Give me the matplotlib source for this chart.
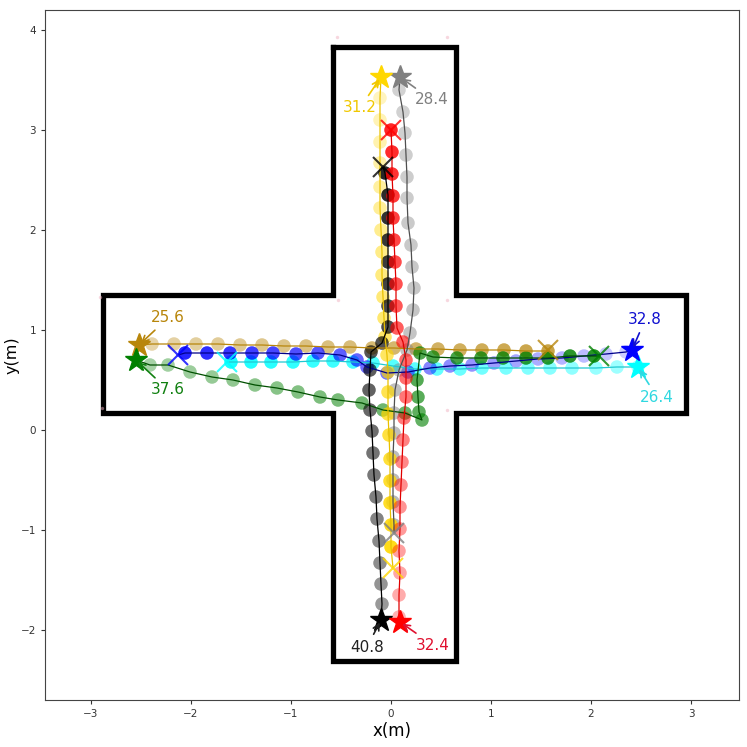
import matplotlib
matplotlib.use("Agg")
import matplotlib.pyplot as plt
import numpy as np
from matplotlib.colors import to_rgba

# ---------------- data ----------------
wall_x = [-0.58, 0.65, 0.65, 2.95, 2.95, 0.65, 0.65, -0.58, -0.58, -2.88, -2.88, -0.58, -0.58]
wall_y = [3.83, 3.83, 1.35, 1.35, 0.17, 0.17, -2.31, -2.31, 0.17, 0.17, 1.35, 1.35, 3.83]

corner_x = [-0.54, 0.56, -0.53, 0.56, 0.56, -2.91, -2.89]
corner_y = [3.93, 3.93, 1.30, 1.30, 0.20, 1.33, 0.22]

# agent: darkgoldenrod
gold_x = [1.57, 1.35, 1.13, 0.91, 0.69, 0.47, 0.25, 0.03, -0.19, -0.41, -0.63, -0.85,
          -1.07, -1.29, -1.51, -1.73, -1.95, -2.17, -2.39]
gold_y = [0.79, 0.79, 0.80, 0.80, 0.80, 0.81, 0.81, 0.82, 0.82, 0.83, 0.83, 0.84,
          0.84, 0.85, 0.85, 0.86, 0.86, 0.86, 0.86]
gold_start = (1.57, 0.80)
gold_goal = (-2.52, 0.85)
gold_time = "25.6"

# agent: green
green_x = [2.03, 1.79, 1.57, 1.35, 1.12, 0.90, 0.66, 0.42, 0.29, 0.26, 0.27, 0.28, 0.31,
           0.14, -0.08, -0.29, -0.53, -0.71, -0.93, -1.14, -1.36, -1.58, -1.79, -2.01, -2.23, -2.41]
green_y = [0.74, 0.74, 0.72, 0.72, 0.72, 0.72, 0.72, 0.73, 0.77, 0.50, 0.33, 0.18, 0.10,
           0.17, 0.20, 0.27, 0.30, 0.33, 0.38, 0.42, 0.45, 0.50, 0.53, 0.58, 0.65, 0.65]
green_start = (2.08, 0.74)
green_goal = (-2.55, 0.70)
green_time = "37.6"

# agent: blue
blue_x = [-2.06, -1.84, -1.61, -1.39, -1.18, -0.95, -0.73, -0.51, -0.34, -0.24, -0.04, 0.17,
          0.39, 0.59, 0.81, 1.03, 1.25, 1.47, 1.71, 1.93, 2.15, 2.35]
blue_y = [0.77, 0.77, 0.77, 0.77, 0.77, 0.76, 0.77, 0.75, 0.70, 0.63, 0.57, 0.58,
          0.62, 0.64, 0.65, 0.67, 0.69, 0.71, 0.72, 0.74, 0.76, 0.78]
blue_start = (-2.13, 0.75)
blue_goal = (2.41, 0.80)
blue_time = "32.8"

# agent: cyan
cyan_x = [-1.60, -1.40, -1.20, -0.98, -0.78, -0.58, -0.38, -0.18, 0.02, 0.24, 0.46, 0.69,
          0.91, 1.15, 1.37, 1.59, 1.81, 2.05, 2.26, 2.47]
cyan_y = [0.68, 0.68, 0.68, 0.68, 0.69, 0.69, 0.68, 0.67, 0.64, 0.61, 0.61, 0.61,
          0.62, 0.62, 0.62, 0.62, 0.62, 0.62, 0.63, 0.63]
cyan_start = (-1.64, 0.68)
cyan_goal = (2.47, 0.63)
cyan_time = "26.4"

# agent: red
red_x = [0.00, 0.01, 0.01, 0.02, 0.02, 0.03, 0.04, 0.05, 0.05, 0.06, 0.12, 0.15, 0.15,
         0.15, 0.13, 0.12, 0.11, 0.10, 0.09, 0.09, 0.08, 0.09, 0.08, 0.08]
red_y = [3.00, 2.78, 2.56, 2.34, 2.12, 1.90, 1.68, 1.46, 1.24, 1.02, 0.88, 0.70, 0.52,
         0.33, 0.12, -0.10, -0.32, -0.55, -0.77, -0.99, -1.21, -1.43, -1.65, -1.87]
red_start = (0.00, 3.00)
red_goal = (0.09, -1.92)
red_time = "32.4"

# agent: black
black_x = [-0.06, -0.03, -0.03, -0.03, -0.03, -0.03, -0.03, -0.03, -0.09, -0.20, -0.21,
           -0.22, -0.21, -0.19, -0.18, -0.17, -0.15, -0.14, -0.12, -0.11, -0.10, -0.09]
black_y = [2.57, 2.35, 2.12, 1.90, 1.68, 1.46, 1.24, 1.03, 0.87, 0.78, 0.60,
           0.40, 0.20, -0.01, -0.23, -0.45, -0.67, -0.89, -1.11, -1.33, -1.54, -1.74]
black_start = (-0.08, 2.63)
black_goal = (-0.10, -1.90)
black_time = "40.8"

# agent: gray
gray_x = [0.03, 0.02, 0.02, 0.02, 0.03, 0.03, 0.04, 0.08, 0.16, 0.19, 0.22, 0.23, 0.21,
          0.20, 0.17, 0.16, 0.16, 0.15, 0.14, 0.12, 0.08]
gray_y = [-0.95, -0.72, -0.50, -0.27, -0.03, 0.17, 0.40, 0.60, 0.80, 0.97, 1.20, 1.42, 1.63,
          1.85, 2.07, 2.32, 2.53, 2.75, 2.97, 3.18, 3.40]
gray_start = (0.03, -1.03)
gray_goal = (0.09, 3.53)
gray_time = "28.4"

# agent: yellow (gold)
yel_x = [0.00, 0.00, -0.01, -0.01, -0.01, -0.02, -0.03, -0.03, -0.03, -0.04, -0.06, -0.07,
         -0.08, -0.09, -0.09, -0.10, -0.11, -0.11, -0.11, -0.11, -0.11, -0.11]
yel_y = [-1.17, -0.95, -0.73, -0.51, -0.29, -0.05, 0.16, 0.38, 0.58, 0.75, 0.93, 1.12,
         1.33, 1.55, 1.78, 2.00, 2.22, 2.43, 2.67, 2.88, 3.10, 3.32]
yel_start = (0.02, -1.38)
yel_goal = (-0.10, 3.53)
yel_time = "31.2"

# ---------------- styles ----------------
agents = [
    dict(x=gold_x, y=gold_y, s=gold_start, g=gold_goal, t=gold_time,
         c="#B8860B", lc="#B8860B", tc="#B8860B", txt=(-2.23, 1.12), a=(0.75, 0.35)),
    dict(x=cyan_x, y=cyan_y, s=cyan_start, g=cyan_goal, t=cyan_time,
         c="#00FFFF", lc="#20C8D0", tc="#30D8E0", txt=(2.66, 0.33), a=(0.9, 0.35)),
    dict(x=blue_x, y=blue_y, s=blue_start, g=blue_goal, t=blue_time,
         c="#0000FF", lc="#00008B", tc="#1010D0", txt=(2.54, 1.10), a=(0.85, 0.2)),
    dict(x=green_x, y=green_y, s=green_start, g=green_goal, t=green_time,
         c="#008000", lc="#005000", tc="#108010", txt=(-2.23, 0.40), a=(0.85, 0.35)),
    dict(x=gray_x, y=gray_y, s=gray_start, g=gray_goal, t=gray_time,
         c="#808080", lc="#505050", tc="#808080", txt=(0.41, 3.30), a=(0.55, 0.35)),
    dict(x=yel_x, y=yel_y, s=yel_start, g=yel_goal, t=yel_time,
         c="#FFD700", lc="#E8C000", tc="#F0C800", txt=(-0.31, 3.22), a=(0.9, 0.25)),
    dict(x=black_x, y=black_y, s=black_start, g=black_goal, t=black_time,
         c="#000000", lc="#000000", tc="#202020", txt=(-0.24, -2.17), a=(0.85, 0.4)),
    dict(x=red_x, y=red_y, s=red_start, g=red_goal, t=red_time,
         c="#FF0000", lc="#E00000", tc="#E0102E", txt=(0.42, -2.15), a=(0.85, 0.3)),
]

fig = plt.figure(figsize=(7.47, 7.47), dpi=100)
ax = fig.add_axes([45 / 747, 47 / 747, 694 / 747, 690 / 747])

ax.plot(wall_x, wall_y, color="black", lw=3.8, solid_joinstyle="miter", zorder=1)
ax.scatter(corner_x, corner_y, s=6, color="#F0B0C0", alpha=0.5, linewidths=0, zorder=1)

for ag in agents:
    n = len(ag["x"])
    alphas = np.linspace(ag["a"][0], ag["a"][1], n)
    base = to_rgba(ag["c"])
    cols = [(base[0], base[1], base[2], al) for al in alphas]
    ax.scatter(ag["x"], ag["y"], s=95, c=cols, linewidths=0, zorder=2)

for ag in agents:
    px = [ag["s"][0]] + list(ag["x"]) + [ag["g"][0]]
    py = [ag["s"][1]] + list(ag["y"]) + [ag["g"][1]]
    ax.plot(px, py, color=ag["lc"], lw=0.9, zorder=3)
    ax.plot(ag["s"][0], ag["s"][1], marker="x", ms=14, mew=1.5, color=ag["c"],
            alpha=0.8, zorder=4, ls="none")
    ax.plot(ag["g"][0], ag["g"][1], marker="*", ms=17, color=ag["c"], zorder=5, ls="none")
    ax.annotate(ag["t"], xy=ag["g"], xytext=ag["txt"], color=ag["tc"], fontsize=11,
                ha="center", va="center", zorder=6,
                arrowprops=dict(arrowstyle="->", color=ag["tc"], lw=1.2,
                                shrinkA=2, shrinkB=2))

ax.set_xlim(-3.46, 3.48)
ax.set_ylim(-2.70, 4.20)
ax.set_xticks([-3, -2, -1, 0, 1, 2, 3])
ax.set_yticks([-2, -1, 0, 1, 2, 3, 4])
ax.tick_params(labelsize=7.5, length=3, width=0.8, colors="#333333")
for sp in ax.spines.values():
    sp.set_linewidth(0.8)
    sp.set_color("#444444")
ax.set_xlabel("x(m)", fontsize=12, labelpad=2)
ax.set_ylabel("y(m)", fontsize=11.5)
ax.yaxis.set_label_coords(-0.036, 0.5)

fig.savefig("out.png", dpi=100)
